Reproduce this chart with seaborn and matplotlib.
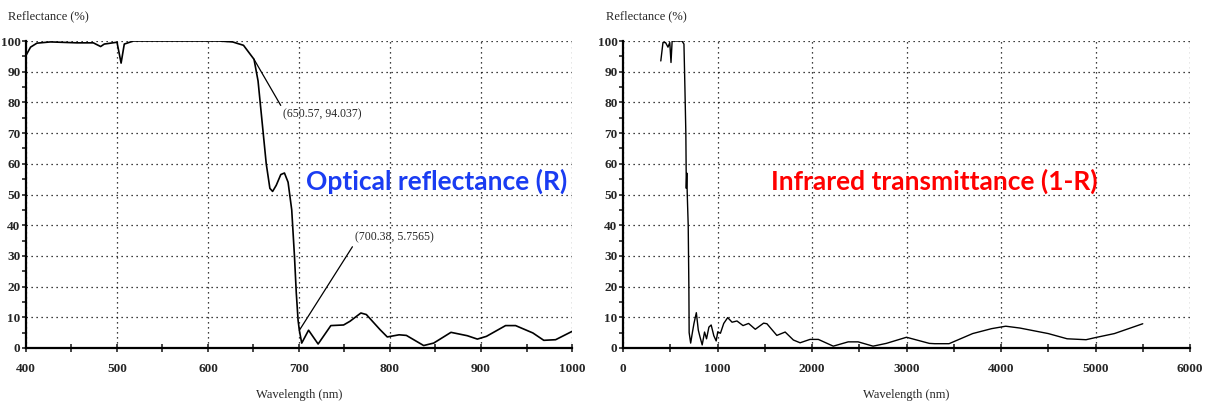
import numpy as np
import pandas as pd
import matplotlib
matplotlib.use("Agg")
import matplotlib.pyplot as plt
import seaborn as sns
from matplotlib.ticker import MultipleLocator

# visible range spectrum (left panel)
vis_wl = [400, 405, 412, 427, 456, 474, 482, 486, 500, 504.5, 508, 518, 612, 627, 639,
          650.57, 655, 660, 664, 668, 671, 675, 680, 684, 688, 692, 695, 697, 699, 700.38,
          703, 710.5, 721, 728, 735, 749, 756, 768, 774, 789, 797, 810, 818, 837, 848,
          867, 885, 896, 906, 927, 938, 957, 969, 982, 1000]
vis_r = [95.3, 98.0, 99.3, 99.7, 99.4, 99.4, 98.2, 99.0, 99.6, 92.8, 99.0, 100, 100, 99.7, 98.6,
         94.037, 87, 72, 60, 52, 51, 53, 56.5, 57, 54, 45, 30, 18, 9, 5.7565,
         1.6, 5.8, 1.3, 4.3, 7.3, 7.5, 8.7, 11.4, 10.9, 6.0, 3.6, 4.3, 4.1, 0.8, 1.6,
         5.1, 4.0, 2.9, 3.8, 7.3, 7.3, 4.9, 2.5, 2.7, 5.4]

# broadband spectrum (right panel)
ir_wl = [400, 423, 450, 476, 495, 508, 520, 600, 624, 645, 655, 665, 670, 675, 680,
         690, 697, 700, 716, 733, 751, 776, 797, 814, 838, 863, 884, 909, 933, 961,
         986, 1003, 1031, 1066, 1108, 1154, 1206, 1270, 1329, 1400, 1488, 1523, 1628,
         1716, 1803, 1874, 1979, 2067, 2225, 2383, 2488, 2646, 2786, 3000, 3242, 3300,
         3450, 3700, 3900, 4050, 4200, 4500, 4700, 4900, 5000, 5200, 5500]
ir_r = [93.5, 99.5, 99.5, 98.0, 99.5, 93.0, 100, 100, 100, 99.0, 85, 70, 52, 57, 50,
        40, 20, 5, 1.6, 4.8, 8.0, 11.5, 5.8, 3.7, 1.0, 5.2, 3.0, 6.8, 7.5, 4.0,
        2.3, 5.3, 4.8, 8.0, 9.9, 8.4, 8.8, 7.3, 8.0, 6.1, 8.1, 7.9, 4.1,
        5.2, 2.6, 1.7, 2.8, 2.8, 0.6, 2.0, 2.0, 0.6, 1.5, 3.5, 1.5, 1.4,
        1.4, 4.7, 6.3, 7.1, 6.5, 4.7, 3.0, 2.7, 3.4, 4.7, 7.9]

vis_df = pd.DataFrame({"wl": vis_wl, "R": vis_r})
ir_df = pd.DataFrame({"wl": ir_wl, "R": ir_r})

sns.set_style("white")
plt.rcParams["font.family"] = ["Liberation Serif", "DejaVu Serif"]

fig = plt.figure(figsize=(12.05, 4.07), dpi=100)
ax1 = fig.add_axes([26 / 1205, 59 / 407, 546 / 1205, 307 / 407])
ax2 = fig.add_axes([623 / 1205, 59 / 407, 567 / 1205, 307 / 407])


def style_axes(ax, xmin, xmax, major, minor):
    ax.set_xlim(xmin, xmax)
    ax.set_ylim(0, 100)
    ax.xaxis.set_major_locator(MultipleLocator(major))
    ax.xaxis.set_minor_locator(MultipleLocator(minor))
    ax.yaxis.set_major_locator(MultipleLocator(10))
    ax.yaxis.set_minor_locator(MultipleLocator(5))
    ax.grid(True, which="major", color="black", linestyle=(0, (1, 3)), linewidth=0.9)
    for s in ["top", "right"]:
        ax.spines[s].set_visible(False)
    for s in ["left", "bottom"]:
        ax.spines[s].set_color("black")
        ax.spines[s].set_linewidth(1.6)
    ax.tick_params(axis="x", which="both", direction="inout", length=6, width=1.2,
                   labelsize=9.5, pad=8, bottom=True)
    ax.tick_params(axis="y", which="both", direction="out", length=3, width=1.2,
                   labelsize=9.5, pad=1, left=True)
    for lab in ax.get_xticklabels() + ax.get_yticklabels():
        lab.set_fontweight("bold")
    ax.set_xlabel("Wavelength (nm)", fontsize=9, labelpad=10)
    ax.set_ylabel("")


sns.lineplot(data=vis_df, x="wl", y="R", ax=ax1, color="black", linewidth=1.2,
             estimator=None, sort=False)
sns.lineplot(data=ir_df, x="wl", y="R", ax=ax2, color="black", linewidth=1.0,
             estimator=None, sort=False)

style_axes(ax1, 400, 1000, 100, 50)
style_axes(ax2, 0, 6000, 1000, 500)

# point annotations on the left spectrum
ax1.annotate("(650.57, 94.037)", xy=(650.57, 94.037), xytext=(682, 76),
             fontsize=8.5, va="center", ha="left",
             arrowprops=dict(arrowstyle="-", color="black", lw=0.9,
                             shrinkA=0, shrinkB=0, relpos=(0, 1)))
ax1.annotate("(700.38, 5.7565)", xy=(700.38, 5.7565), xytext=(761, 36),
             fontsize=8.5, va="center", ha="left",
             arrowprops=dict(arrowstyle="-", color="black", lw=0.9,
                             shrinkA=0, shrinkB=0, relpos=(0, 0)))

fig.text(436.5 / 1205, 1 - 181 / 407, "Optical reflectance (R)",
         ha="center", va="center", fontsize=19, fontweight="bold",
         family=["Lato"], color="#1a3cf2")
fig.text(934 / 1205, 1 - 181 / 407, "Infrared transmittance (1-R)",
         ha="center", va="center", fontsize=19, fontweight="bold",
         family=["Lato"], color="#ff0000")

fig.text(8 / 1205, 1 - 16 / 407, "Reflectance (%)", fontsize=9, va="center", ha="left")
fig.text(606 / 1205, 1 - 16 / 407, "Reflectance (%)", fontsize=9, va="center", ha="left")

fig.savefig("out.png", dpi=100)
